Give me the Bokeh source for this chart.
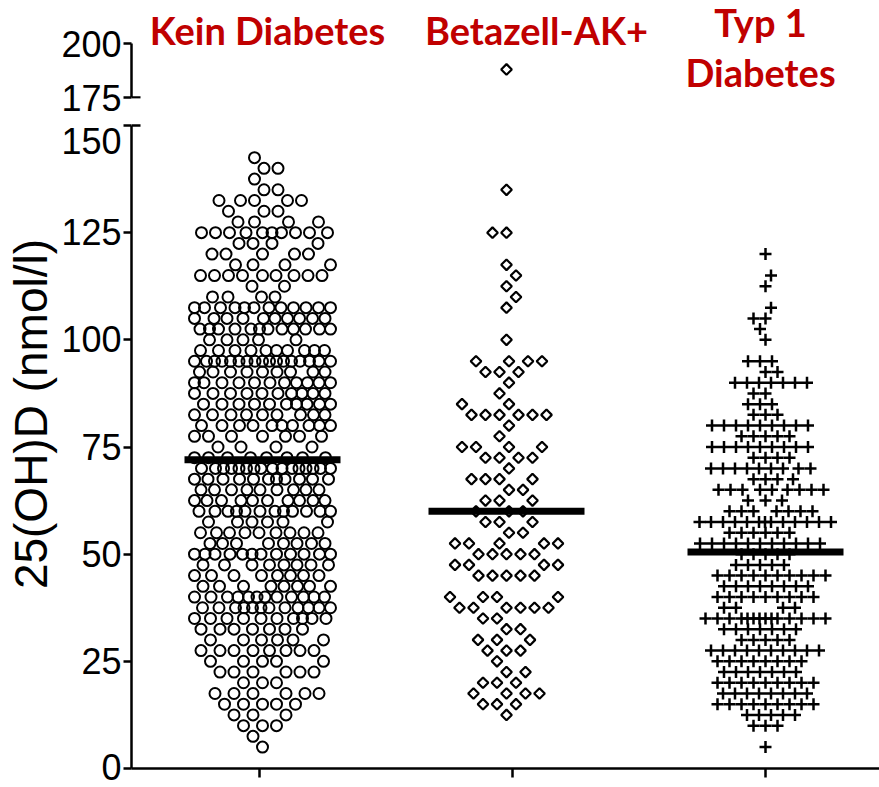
import numpy as np
from bokeh.plotting import figure
from bokeh.models import LinearAxis, FixedTicker, Range1d
from bokeh.layouts import column
from bokeh.embed import file_html
from bokeh.resources import INLINE
from bokeh.core.properties import value

# ---------------- data ----------------
groups = ["Kein Diabetes", "Betazell-AK+", "Typ 1 Diabetes"]
group_titles = ["Kein Diabetes", "Betazell-AK+", "Typ 1\nDiabetes"]

kein_levels = [142.5, 140, 137.5, 135, 132.5, 130, 127.5, 125, 122.5, 120, 117.5, 115,
               112.5, 110, 107.5, 105, 102.5, 100, 97.5, 95, 92.5, 90, 87.5, 85, 82.5,
               80, 77.5, 75, 72.5, 70, 67.5, 65, 62.5, 60, 57.5, 55, 52.5, 50, 47.5, 45,
               42.5, 40, 37.5, 35, 32.5, 30, 27.5, 25, 22.5, 20, 17.5, 15, 12.5, 10, 7.5, 5]
kein_counts = [1, 2, 1, 2, 5, 3, 4, 10, 4, 5, 4, 9,
               2, 4, 12, 10, 12, 5, 10, 17, 9, 11, 10, 10, 9,
               10, 7, 4, 8, 16, 11, 9, 10, 12, 6, 9, 8, 12, 8, 8,
               8, 12, 12, 10, 7, 6, 8, 5, 6, 3, 6, 5, 3, 3, 1, 1]

beta_levels = [188, 135, 125, 117.5, 115, 112.5, 110, 107.5, 100, 95, 92.5, 90, 87.5,
               85, 82.5, 80, 77.5, 75, 72.5, 70, 67.5, 65, 62.5, 60, 57.5, 55, 52.5,
               50, 47.5, 45, 40, 37.5, 35, 32.5, 30, 27.5, 25, 22.5, 20, 17.5, 15, 12.5]
beta_counts = [1, 1, 2, 1, 1, 1, 1, 1, 1, 4, 3, 1, 1,
               2, 6, 1, 1, 4, 4, 1, 4, 2, 3, 3, 3, 2, 5,
               5, 4, 5, 4, 6, 2, 2, 3, 3, 1, 2, 3, 4, 3, 1]

typ1_levels = [120, 115, 112.5, 107.5, 105, 102.5, 100, 95, 92.5, 90, 87.5, 85, 82.5,
               80, 77.5, 75, 72.5, 70, 67.5, 65, 62.5, 60, 57.5, 55, 52.5, 50, 47.5,
               45, 42.5, 40, 37.5, 35, 32.5, 30, 27.5, 25, 22.5, 20, 17.5, 15, 12.5, 10, 5]
typ1_counts = [1, 1, 1, 1, 2, 1, 1, 3, 2, 7, 2, 3, 3,
               9, 5, 9, 4, 9, 4, 9, 3, 7, 13, 6, 11, 5, 5,
               10, 8, 9, 4, 14, 7, 5, 10, 8, 7, 9, 8, 9, 5, 3, 1]

medians = [72.0, 60.0, 50.5]

y_ticks_low = [0, 25, 50, 75, 100, 125, 150]
y_ticks_high = [175, 200]
y_title = "25(OH)D (nmol/l)"

# ---------------- layout constants (pixels) ----------------
W_TOTAL, H_TOTAL = 879, 787
FRAME_LEFT = 131
SPLIT = 118                 # canvas boundary between upper and lower panel
TOP_FRAME_BOTTOM = 98
BOT_FRAME_TOP, BOT_FRAME_BOTTOM = 123, 768
PX_PER_X = 253.0
KY_LOW = 643.0 / 150.0      # px per nmol/l below the break
KY_HIGH = 54.0 / 25.0       # px per nmol/l above the break
FIRST_TICK_PX = 259
TICK_FONT = "Liberation Sans"
TICK_SIZE = "36px"
NBSP = "\u00a0"

x_start = 1 - (FIRST_TICK_PX - FRAME_LEFT) / PX_PER_X
x_end = x_start + (W_TOTAL - FRAME_LEFT) / PX_PER_X
x_range = Range1d(x_start, x_end)

group_center_px = [3, -6, 0]
half_width_px = [68, 62, 66]
collide_px = [14, 14, 12]
median_half_px = 78

def swarm(vals, ky, d, half_w):
    v = np.sort(np.asarray(vals, float))
    ypx = v * ky
    cand = np.arange(-half_w, half_w + 1e-9, 0.5)
    out = np.zeros(len(v))
    PX, PY = [], []
    for i, yy in enumerate(ypx):
        if PX:
            ax = np.array(PX); ay = np.array(PY)
            m = np.abs(ay - yy) < d
            if m.any():
                dx = cand[:, None] - ax[m][None, :]
                dy = (ay[m] - yy)[None, :]
                dist = np.sqrt(dx ** 2 + dy ** 2).min(axis=1)
            else:
                dist = np.full(len(cand), np.inf)
        else:
            dist = np.full(len(cand), np.inf)
        free = dist >= d
        if free.any():
            pref = (cand < 0) if i % 2 == 0 else (cand > 0)
            key = np.abs(cand) + 1e-3 * pref
            key[~free] = np.inf
            j = int(np.argmin(key))
        else:
            j = int(np.argmax(dist - 1e-3 * np.abs(cand)))
        out[i] = cand[j]
        PX.append(cand[j]); PY.append(yy)
    return v, out

all_levels = [kein_levels, beta_levels, typ1_levels]
all_counts = [kein_counts, beta_counts, typ1_counts]

def style_axis(ax):
    ax.axis_line_width = 2.5
    ax.axis_line_color = "black"
    ax.major_tick_line_width = 2.5
    ax.major_tick_line_color = "black"
    ax.major_tick_out = 8
    ax.major_tick_in = 0
    ax.minor_tick_out = 0
    ax.minor_tick_in = 0
    ax.major_label_text_font = TICK_FONT
    ax.major_label_text_font_size = TICK_SIZE
    ax.major_label_text_color = "black"
    ax.major_label_standoff = 2

# ---------------- lower panel ----------------
p = figure(width=W_TOTAL, height=H_TOTAL - SPLIT, x_range=x_range,
           y_range=Range1d(0, (BOT_FRAME_BOTTOM - BOT_FRAME_TOP) / KY_LOW),
           x_axis_location="below", y_axis_location=None,
           toolbar_location=None, output_backend="svg",
           min_border_left=FRAME_LEFT, min_border_right=0,
           min_border_top=BOT_FRAME_TOP - SPLIT,
           min_border_bottom=H_TOTAL - BOT_FRAME_BOTTOM)
p.outline_line_color = None
p.grid.visible = False
p.background_fill_color = "white"
p.border_fill_color = "white"

xa = p.xaxis[0]
xa.ticker = FixedTicker(ticks=[1, 2, 3])
style_axis(xa)
xa.major_tick_out = 9
xa.major_label_text_font_size = "1px"
xa.major_label_text_color = None

ya = LinearAxis(ticker=FixedTicker(ticks=y_ticks_low), bounds=(0, 150))
style_axis(ya)
# the "150" label sits a little below its tick, as in the reference
ya.major_label_overrides = {150: "\n150"}
ya.major_label_text_line_height = 0.05
p.add_layout(ya, "left")

ta = LinearAxis(ticker=FixedTicker(ticks=[]), bounds=(0, 150),
                axis_label=NBSP * 5 + y_title, axis_line_color=None,
                major_tick_out=0, major_tick_in=0, minor_tick_out=0, minor_tick_in=0,
                axis_label_text_font="Liberation Sans",
                axis_label_text_font_size="46px",
                axis_label_text_font_style="normal",
                axis_label_text_color="black",
                axis_label_standoff=2)
p.add_layout(ta, "left")

# ---------------- upper panel ----------------
pt = figure(width=W_TOTAL, height=SPLIT, x_range=x_range,
            y_range=Range1d(175 - (TOP_FRAME_BOTTOM - 97) / KY_HIGH, 175 + 97 / KY_HIGH),
            x_axis_location=None, y_axis_location=None,
            toolbar_location=None, output_backend="svg",
            min_border_left=FRAME_LEFT, min_border_right=0,
            min_border_top=0, min_border_bottom=SPLIT - TOP_FRAME_BOTTOM)
pt.outline_line_color = None
pt.grid.visible = False
pt.background_fill_color = "white"
pt.border_fill_color = "white"

yt = LinearAxis(ticker=FixedTicker(ticks=y_ticks_high), bounds=(175, 200))
style_axis(yt)
pt.add_layout(yt, "left")

# break marks (short strokes to the right of the axis)
brk = 9 / PX_PER_X
p.segment(x0=[x_start], y0=[150], x1=[x_start + brk], y1=[150], line_width=2.5, line_color="black")
pt.segment(x0=[x_start], y0=[175], x1=[x_start + brk], y1=[175], line_width=2.5, line_color="black")

# ---------------- points ----------------
for gi in range(3):
    vals = np.repeat(np.asarray(all_levels[gi], float), all_counts[gi])
    v, offs = swarm(vals, KY_LOW, collide_px[gi], half_width_px[gi])
    xs = (gi + 1) + (group_center_px[gi] + offs) / PX_PER_X
    lo = v <= 150
    hi = ~lo
    for fig, mask in ((p, lo), (pt, hi)):
        if not mask.any():
            continue
        if gi == 0:
            fig.scatter(xs[mask], v[mask], marker="circle", size=11,
                        fill_color=None, line_color="black", line_width=2)
        elif gi == 1:
            fig.scatter(xs[mask], v[mask], marker="square", angle=np.pi / 4, size=7.5,
                        fill_color=None, line_color="black", line_width=2.2)
        else:
            fig.scatter(xs[mask], v[mask], marker="cross", size=12,
                        line_color="black", line_width=2.5)

# medians
mx = np.array([1, 2, 3], float) + np.array(group_center_px) / PX_PER_X
p.segment(x0=mx - median_half_px / PX_PER_X, y0=medians,
          x1=mx + median_half_px / PX_PER_X, y1=medians,
          line_width=7, line_color="black", line_cap="butt")

# ---------------- group titles ----------------
title_off_px = [8, 24, -5]
tx, ty, tt = [], [], []
for gi, t in enumerate(group_titles):
    lines = t.split("\n")
    first = 29 if len(lines) == 1 else 21
    for li, line in enumerate(lines):
        base_px = first + 50 * li
        tx.append((gi + 1) + title_off_px[gi] / PX_PER_X)
        ty.append(175 + (97 - base_px) / KY_HIGH)
        tt.append(line)
pt.text(x=tx, y=ty, text=tt, text_font=value("Lato"), text_font_style="bold",
        text_font_size="38px", text_color="#c00000",
        text_align="center", text_baseline="alphabetic")

layout = column(pt, p)
open("out.html", "w").write(file_html(layout, INLINE))
